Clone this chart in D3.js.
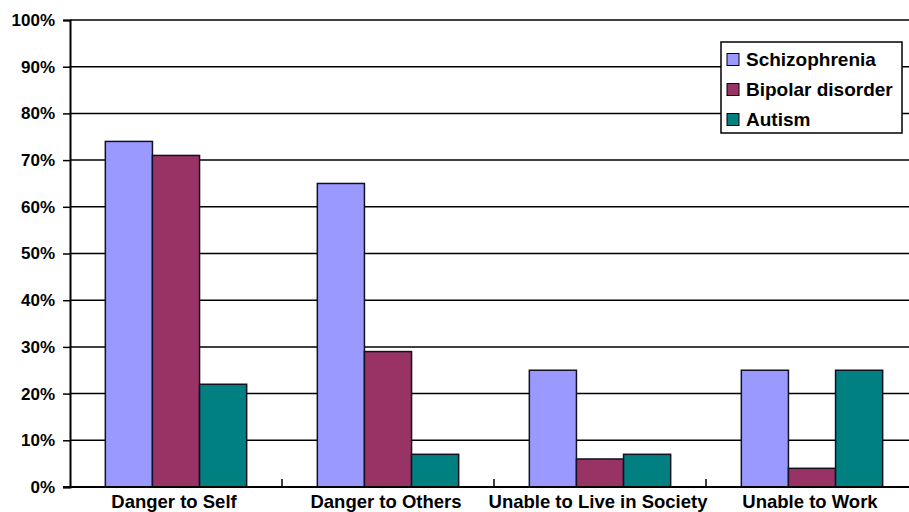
<!DOCTYPE html>
<html><head><meta charset="utf-8">
<script src="https://cdn.jsdelivr.net/npm/d3@7"></script>
<style>body{margin:0;background:#fff}svg{display:block}text{font-family:"Liberation Sans",Arial,Helvetica,sans-serif;font-weight:bold;fill:#000}</style>
</head><body><svg id="c" width="909" height="512"></svg>
<script>
const categories = ["Danger to Self","Danger to Others","Unable to Live in Society","Unable to Work"];
const seriesNames = ["Schizophrenia","Bipolar disorder","Autism"];
const schizophrenia = [74,65,25,25];
const bipolar = [71,29,6,4];
const autism = [22,7,7,25];
const colors = ["#9999FF","#993366","#008080"];
const yTicks = [0,10,20,30,40,50,60,70,80,90,100];

const series = [schizophrenia,bipolar,autism];
const svg = d3.select("#c");
const x0 = d3.scaleBand().domain(categories).range([70,918]).paddingInner(0).paddingOuter(0);
const inner = d3.scaleBand().domain(seriesNames).range([0,x0.bandwidth()]).paddingInner(0).paddingOuter(0.75);
const y = d3.scaleLinear().domain([0,100]).range([487,20]);

// gridlines
svg.append("g").selectAll("line").data(yTicks.filter(d=>d>0)).join("line")
  .attr("x1",70).attr("x2",909).attr("y1",d=>y(d)).attr("y2",d=>y(d))
  .attr("stroke","#000").attr("stroke-width",1.5);

// y axis
const yAxis = d3.axisLeft(y).tickValues(yTicks).tickFormat(d=>d+"%").tickSize(7).tickPadding(8);
const ya = svg.append("g").attr("transform","translate(70,0)").call(yAxis);
ya.select(".domain").attr("stroke","#000").attr("stroke-width",2);
ya.selectAll(".tick line").attr("stroke","#000").attr("stroke-width",1.5);
ya.selectAll(".tick text").attr("font-size",17).style("font-family","Liberation Sans, Arial, sans-serif").style("font-weight","bold");

// bars
const g = svg.append("g");
categories.forEach((c,i)=>{
  series.forEach((s,j)=>{
    g.append("rect")
      .attr("x",x0(c)+inner(seriesNames[j]))
      .attr("y",y(s[i]))
      .attr("width",inner.bandwidth())
      .attr("height",y(0)-y(s[i]))
      .attr("fill",colors[j]).attr("stroke","#111122").attr("stroke-width",1.5);
  });
});

// x axis
const xa = svg.append("g").attr("transform","translate(0,487)");
xa.append("line").attr("x1",63).attr("x2",909).attr("y1",0).attr("y2",0).attr("stroke","#000").attr("stroke-width",2);
xa.selectAll("line.tk").data(categories.slice(1)).join("line").attr("class","tk")
  .attr("x1",d=>x0(d)).attr("x2",d=>x0(d)).attr("y1",0).attr("y2",-8).attr("stroke","#000").attr("stroke-width",1.5);
xa.selectAll("text").data(categories).join("text")
  .attr("x",d=>x0(d)+x0.bandwidth()/2-2).attr("y",21).attr("text-anchor","middle").attr("font-size",18.5).text(d=>d);

// legend
const lg = svg.append("g").attr("transform","translate(721,42)");
lg.append("rect").attr("width",181).attr("height",91).attr("fill","#fff").attr("stroke","#000").attr("stroke-width",1.5);
seriesNames.forEach((n,j)=>{
  const cy = 17.5 + j*30;
  lg.append("rect").attr("x",6).attr("y",cy-6).attr("width",12).attr("height",12).attr("fill",colors[j]).attr("stroke","#000").attr("stroke-width",1);
  lg.append("text").attr("x",25).attr("y",cy).attr("dy","0.35em").attr("font-size",19).text(n);
});
</script></body></html>
